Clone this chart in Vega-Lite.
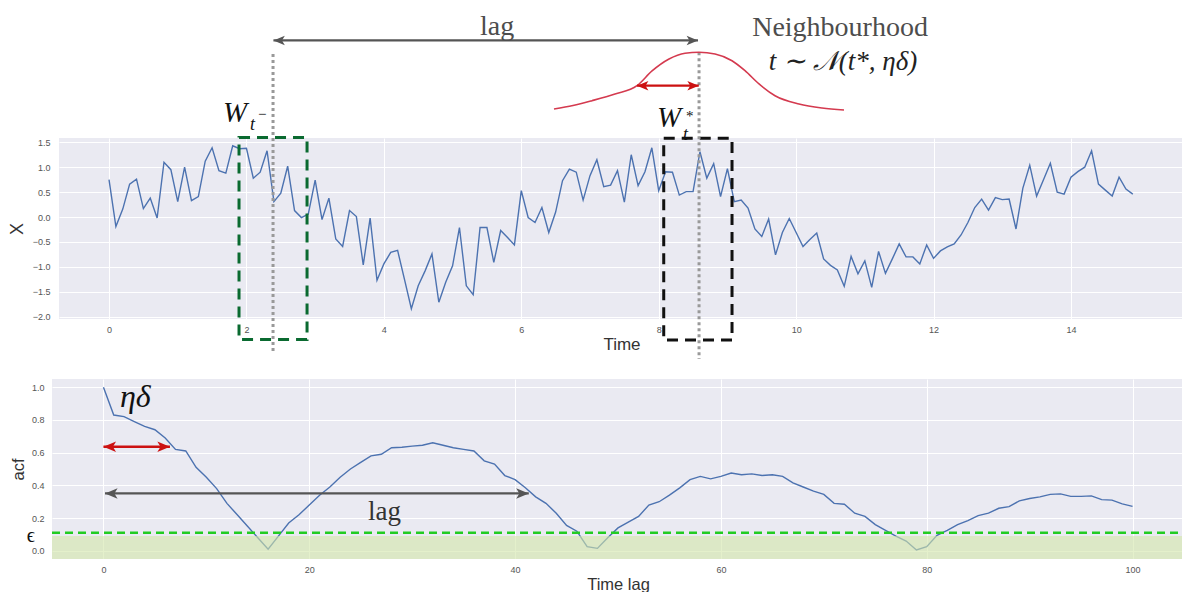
{
  "$schema": "https://vega.github.io/schema/vega-lite/v6.json",
  "padding": {"left": 8, "top": 13, "right": 0, "bottom": 0},
  "autosize": {"type": "pad"},
  "spacing": 18,
  "config": {
    "view": {"stroke": null},
    "font": "Liberation Sans",
    "axis": {"domain": false, "ticks": false, "tickSize": 0, "grid": true, "gridColor": "#ffffff", "gridWidth": 1, "labelColor": "#555555", "labelFontSize": 9, "labelFont": "Liberation Sans", "titleFont": "Liberation Sans", "titleFontWeight": "normal", "titleColor": "#333333"}
  },
  "resolve": {"scale": {"color": "independent", "shape": "independent"}},
  "datasets": {
    "xseries": [
      {"time":0.0,"x":0.75},{"time":0.1,"x":-0.19},{"time":0.2,"x":0.16},{"time":0.3,"x":0.66},{"time":0.4,"x":0.76},{"time":0.5,"x":0.17},{"time":0.6,"x":0.38},{"time":0.7,"x":-0.02},{"time":0.8,"x":1.10},{"time":0.9,"x":0.95},
      {"time":1.0,"x":0.31},{"time":1.1,"x":1.00},{"time":1.2,"x":0.33},{"time":1.3,"x":0.41},{"time":1.4,"x":1.12},{"time":1.5,"x":1.39},{"time":1.6,"x":0.93},{"time":1.7,"x":0.88},{"time":1.8,"x":1.43},{"time":1.9,"x":1.37},
      {"time":2.0,"x":1.38},{"time":2.1,"x":0.78},{"time":2.2,"x":0.90},{"time":2.3,"x":1.33},{"time":2.4,"x":0.31},{"time":2.5,"x":0.48},{"time":2.6,"x":1.02},{"time":2.7,"x":0.13},{"time":2.8,"x":-0.01},{"time":2.9,"x":0.06},
      {"time":3.0,"x":0.74},{"time":3.1,"x":-0.05},{"time":3.2,"x":0.38},{"time":3.3,"x":-0.44},{"time":3.4,"x":-0.59},{"time":3.5,"x":0.13},{"time":3.6,"x":0.01},{"time":3.7,"x":-0.96},{"time":3.8,"x":-0.02},{"time":3.9,"x":-1.27},
      {"time":4.0,"x":-0.94},{"time":4.1,"x":-0.71},{"time":4.2,"x":-0.67},{"time":4.3,"x":-1.25},{"time":4.4,"x":-1.84},{"time":4.5,"x":-1.38},{"time":4.6,"x":-1.08},{"time":4.7,"x":-0.74},{"time":4.8,"x":-1.71},{"time":4.9,"x":-1.31},
      {"time":5.0,"x":-0.98},{"time":5.1,"x":-0.21},{"time":5.2,"x":-1.38},{"time":5.3,"x":-1.56},{"time":5.4,"x":-0.21},{"time":5.5,"x":-0.21},{"time":5.6,"x":-0.91},{"time":5.7,"x":-0.27},{"time":5.8,"x":-0.41},{"time":5.9,"x":-0.56},
      {"time":6.0,"x":0.53},{"time":6.1,"x":-0.01},{"time":6.2,"x":-0.11},{"time":6.3,"x":0.19},{"time":6.4,"x":-0.31},{"time":6.5,"x":0.10},{"time":6.6,"x":0.73},{"time":6.7,"x":0.96},{"time":6.8,"x":0.90},{"time":6.9,"x":0.34},
      {"time":7.0,"x":0.83},{"time":7.1,"x":1.15},{"time":7.2,"x":0.61},{"time":7.3,"x":0.64},{"time":7.4,"x":0.93},{"time":7.5,"x":0.30},{"time":7.6,"x":1.25},{"time":7.7,"x":0.63},{"time":7.8,"x":0.91},{"time":7.9,"x":1.39},
      {"time":8.0,"x":0.53},{"time":8.1,"x":0.91},{"time":8.2,"x":0.90},{"time":8.3,"x":0.44},{"time":8.4,"x":0.51},{"time":8.5,"x":0.51},{"time":8.6,"x":1.31},{"time":8.7,"x":0.78},{"time":8.8,"x":1.07},{"time":8.9,"x":0.41},
      {"time":9.0,"x":0.97},{"time":9.1,"x":0.31},{"time":9.2,"x":0.34},{"time":9.3,"x":0.18},{"time":9.4,"x":-0.24},{"time":9.5,"x":-0.39},{"time":9.6,"x":-0.04},{"time":9.7,"x":-0.76},{"time":9.8,"x":-0.31},{"time":9.9,"x":-0.03},
      {"time":10.0,"x":-0.31},{"time":10.1,"x":-0.59},{"time":10.2,"x":-0.45},{"time":10.3,"x":-0.32},{"time":10.4,"x":-0.84},{"time":10.5,"x":-0.97},{"time":10.6,"x":-1.06},{"time":10.7,"x":-1.39},{"time":10.8,"x":-0.79},{"time":10.9,"x":-1.14},
      {"time":11.0,"x":-0.88},{"time":11.1,"x":-1.41},{"time":11.2,"x":-0.69},{"time":11.3,"x":-1.13},{"time":11.4,"x":-0.84},{"time":11.5,"x":-0.54},{"time":11.6,"x":-0.80},{"time":11.7,"x":-0.80},{"time":11.8,"x":-0.94},{"time":11.9,"x":-0.56},
      {"time":12.0,"x":-0.83},{"time":12.1,"x":-0.68},{"time":12.2,"x":-0.60},{"time":12.3,"x":-0.54},{"time":12.4,"x":-0.36},{"time":12.5,"x":-0.11},{"time":12.6,"x":0.19},{"time":12.7,"x":0.36},{"time":12.8,"x":0.14},{"time":12.9,"x":0.39},
      {"time":13.0,"x":0.35},{"time":13.1,"x":0.36},{"time":13.2,"x":-0.24},{"time":13.3,"x":0.58},{"time":13.4,"x":1.04},{"time":13.5,"x":0.42},{"time":13.6,"x":0.75},{"time":13.7,"x":1.08},{"time":13.8,"x":0.50},{"time":13.9,"x":0.46},
      {"time":14.0,"x":0.80},{"time":14.1,"x":0.91},{"time":14.2,"x":1.00},{"time":14.3,"x":1.33},{"time":14.4,"x":0.66},{"time":14.5,"x":0.54},{"time":14.6,"x":0.42},{"time":14.7,"x":0.80},{"time":14.8,"x":0.56},{"time":14.9,"x":0.46}
    ],
    "gauss": [
      {"time":6.476,"x":2.168},{"time":6.753,"x":2.238},{"time":7.029,"x":2.335},{"time":7.364,"x":2.469},{"time":7.684,"x":2.636},{"time":7.903,"x":2.931},{"time":8.150,"x":3.171},{"time":8.383,"x":3.286},{"time":8.587,"x":3.306},{"time":8.820,"x":3.272},{"time":9.067,"x":3.137},{"time":9.256,"x":2.937},{"time":9.460,"x":2.670},{"time":9.693,"x":2.435},{"time":10.042,"x":2.268},{"time":10.377,"x":2.188},{"time":10.697,"x":2.148}
    ],
    "toparrows": [
      {"name":"lag","time":2.393,"time2":8.572,"x":3.543},
      {"name":"nbh","time":7.684,"time2":8.583,"x":2.636}
    ],
    "topheads": [
      {"name":"lag","side":"left","time":2.393,"x":3.543},
      {"name":"lag","side":"right","time":8.572,"x":3.543},
      {"name":"nbh","side":"left","time":7.684,"x":2.636},
      {"name":"nbh","side":"right","time":8.583,"x":2.636}
    ],
    "acf": [
      {"lag":0,"acf":1.0},{"lag":1,"acf":0.83},{"lag":2,"acf":0.82},{"lag":3,"acf":0.79},{"lag":4,"acf":0.76},{"lag":5,"acf":0.74},{"lag":6,"acf":0.69},{"lag":7,"acf":0.62},{"lag":8,"acf":0.61},{"lag":9,"acf":0.51},
      {"lag":10,"acf":0.45},{"lag":11,"acf":0.38},{"lag":12,"acf":0.29},{"lag":13,"acf":0.22},{"lag":14,"acf":0.15},{"lag":15,"acf":0.08},{"lag":16,"acf":0.01},{"lag":17,"acf":0.09},{"lag":18,"acf":0.17},{"lag":19,"acf":0.22},
      {"lag":20,"acf":0.28},{"lag":21,"acf":0.34},{"lag":22,"acf":0.39},{"lag":23,"acf":0.45},{"lag":24,"acf":0.50},{"lag":25,"acf":0.54},{"lag":26,"acf":0.58},{"lag":27,"acf":0.59},{"lag":28,"acf":0.63},{"lag":29,"acf":0.633},
      {"lag":30,"acf":0.64},{"lag":31,"acf":0.645},{"lag":32,"acf":0.66},{"lag":33,"acf":0.645},{"lag":34,"acf":0.63},{"lag":35,"acf":0.62},{"lag":36,"acf":0.61},{"lag":37,"acf":0.55},{"lag":38,"acf":0.53},{"lag":39,"acf":0.46},
      {"lag":40,"acf":0.435},{"lag":41,"acf":0.385},{"lag":42,"acf":0.33},{"lag":43,"acf":0.29},{"lag":44,"acf":0.23},{"lag":45,"acf":0.155},{"lag":46,"acf":0.12},{"lag":47,"acf":0.025},{"lag":48,"acf":0.015},{"lag":49,"acf":0.08},
      {"lag":50,"acf":0.14},{"lag":51,"acf":0.175},{"lag":52,"acf":0.21},{"lag":53,"acf":0.28},{"lag":54,"acf":0.30},{"lag":55,"acf":0.34},{"lag":56,"acf":0.385},{"lag":57,"acf":0.435},{"lag":58,"acf":0.455},{"lag":59,"acf":0.44},
      {"lag":60,"acf":0.455},{"lag":61,"acf":0.475},{"lag":62,"acf":0.465},{"lag":63,"acf":0.47},{"lag":64,"acf":0.46},{"lag":65,"acf":0.465},{"lag":66,"acf":0.455},{"lag":67,"acf":0.415},{"lag":68,"acf":0.39},{"lag":69,"acf":0.365},
      {"lag":70,"acf":0.345},{"lag":71,"acf":0.29},{"lag":72,"acf":0.285},{"lag":73,"acf":0.23},{"lag":74,"acf":0.21},{"lag":75,"acf":0.16},{"lag":76,"acf":0.125},{"lag":77,"acf":0.09},{"lag":78,"acf":0.06},{"lag":79,"acf":0.005},
      {"lag":80,"acf":0.025},{"lag":81,"acf":0.095},{"lag":82,"acf":0.125},{"lag":83,"acf":0.16},{"lag":84,"acf":0.185},{"lag":85,"acf":0.215},{"lag":86,"acf":0.23},{"lag":87,"acf":0.26},{"lag":88,"acf":0.27},{"lag":89,"acf":0.305},
      {"lag":90,"acf":0.32},{"lag":91,"acf":0.33},{"lag":92,"acf":0.345},{"lag":93,"acf":0.348},{"lag":94,"acf":0.333},{"lag":95,"acf":0.333},{"lag":96,"acf":0.336},{"lag":97,"acf":0.313},{"lag":98,"acf":0.31},{"lag":99,"acf":0.287},
      {"lag":100,"acf":0.272}
    ],
    "acfarrows": [
      {"name":"eta","lag":0,"lag2":6.46,"acf":0.636},
      {"name":"lag","lag":0.15,"lag2":41.33,"acf":0.351}
    ],
    "acfheads": [
      {"name":"eta","side":"left","lag":0,"acf":0.636},
      {"name":"eta","side":"right","lag":6.46,"acf":0.636},
      {"name":"lag","side":"left","lag":0.15,"acf":0.351},
      {"name":"lag","side":"right","lag":41.33,"acf":0.351}
    ]
  },
  "vconcat": [
    {
      "bounds": "flush",
      "spacing": 6,
      "hconcat": [
        {"width": 1, "height": 181, "data": {"values": [{"a": 0}]}, "mark": {"type": "point", "opacity": 0}},
        {
          "width": 1125,
          "height": 181,
          "view": {"fill": "#eaeaf2", "stroke": null},
          "encoding": {
            "x": {"field": "time", "type": "quantitative", "scale": {"domain": [-0.728, 15.645], "nice": false, "zero": false},
                  "axis": {"values": [0, 2, 4, 6, 8, 10, 12, 14], "format": "d", "title": "Time", "titleFontSize": 17, "labelPadding": 6, "titlePadding": 2}},
            "y": {"field": "x", "type": "quantitative", "scale": {"domain": [-2.046, 1.586], "nice": false, "zero": false},
                  "axis": {"values": [-2, -1.5, -1, -0.5, 0, 0.5, 1, 1.5], "format": ".1f", "title": "X", "titleFontSize": 18, "titleX": -33, "labelPadding": 9}}
          },
          "layer": [
            {"data": {"name": "xseries"}, "mark": {"type": "line", "color": "#4c72b0", "strokeWidth": 1.4}},
            {"data": {"values": [{"time": 1.892, "time2": 2.882, "x": 1.596, "x2": -2.457}]},
             "mark": {"type": "rect", "fillOpacity": 0, "stroke": "#0a6a30", "strokeWidth": 3, "strokeDash": [11, 7]},
             "encoding": {"x2": {"field": "time2"}, "y2": {"field": "x2"}}},
            {"data": {"values": [{"time": 8.073, "time2": 9.067, "x": 1.58, "x2": -2.467}]},
             "mark": {"type": "rect", "fillOpacity": 0, "stroke": "#111111", "strokeWidth": 3, "strokeDash": [11, 7]},
             "encoding": {"x2": {"field": "time2"}, "y2": {"field": "x2"}}},
            {"data": {"values": [{"time": 2.387, "x": 3.271, "x2": -2.748}, {"time": 8.587, "x": 3.306, "x2": -2.849}]},
             "mark": {"type": "rule", "color": "#999999", "strokeWidth": 3, "strokeDash": [3, 3]},
             "encoding": {"y2": {"field": "x2"}}},
            {"data": {"name": "gauss"}, "mark": {"type": "line", "color": "#d43a4f", "strokeWidth": 1.6, "interpolate": "monotone"}},
            {"data": {"name": "toparrows"},
             "mark": {"type": "rule", "strokeWidth": 2.2},
             "encoding": {"x2": {"field": "time2"},
                          "color": {"field": "name", "type": "nominal", "scale": {"domain": ["lag", "nbh"], "range": ["#555555", "#cc1111"]}, "legend": null}}},
            {"data": {"name": "topheads"},
             "mark": {"type": "point", "filled": true, "opacity": 1, "size": 90},
             "encoding": {"color": {"field": "name", "type": "nominal", "scale": {"domain": ["lag", "nbh"], "range": ["#555555", "#cc1111"]}, "legend": null},
                          "shape": {"field": "side", "type": "nominal", "scale": {"domain": ["left", "right"], "range": ["M0,0L2.4,-1L1.8,0L2.4,1Z", "M0,0L-2.4,-1L-1.8,0L-2.4,1Z"]}, "legend": null}}},
            {"data": {"values": [{"time": 5.647, "x": 3.647, "label": "lag"}, {"time": 10.639, "x": 3.639, "label": "Neighbourhood"}]},
             "mark": {"type": "text", "font": "Liberation Serif", "fontSize": 28, "color": "#4d4d4d", "align": "center", "baseline": "alphabetic"},
             "encoding": {"text": {"field": "label"}}},
            {"data": {"values": [{"time": 10.682, "x": 2.951, "label": "t ∼ 𝒩(t*, ηδ)"}]},
             "mark": {"type": "text", "font": "Liberation Serif", "fontStyle": "italic", "fontSize": 27, "color": "#222222", "align": "center", "baseline": "alphabetic"},
             "encoding": {"text": {"field": "label"}}},
            {"data": {"values": [{"time": 1.659, "x": 1.913, "label": "W"}, {"time": 7.976, "x": 1.807, "label": "W"}]},
             "mark": {"type": "text", "font": "Liberation Serif", "fontStyle": "italic", "fontSize": 29, "color": "#111111", "align": "left", "baseline": "alphabetic"},
             "encoding": {"text": {"field": "label"}}},
            {"data": {"values": [{"time": 2.052, "x": 1.747, "label": "t"}, {"time": 8.354, "x": 1.546, "label": "t"}]},
             "mark": {"type": "text", "font": "Liberation Serif", "fontStyle": "italic", "fontSize": 18, "color": "#111111", "align": "left", "baseline": "alphabetic"},
             "encoding": {"text": {"field": "label"}}},
            {"data": {"values": [{"time": 2.169, "x": 2.068, "label": "−"}, {"time": 8.398, "x": 2.027, "label": "*"}]},
             "mark": {"type": "text", "font": "Liberation Serif", "fontSize": 15, "color": "#111111", "align": "left", "baseline": "middle"},
             "encoding": {"text": {"field": "label"}}}
          ]
        }
      ]
    },
    {
      "width": 1132,
      "height": 180,
      "view": {"fill": "#eaeaf2", "stroke": null},
      "encoding": {
        "x": {"field": "lag", "type": "quantitative", "scale": {"domain": [-5, 105], "nice": false, "zero": false},
              "axis": {"values": [0, 20, 40, 60, 80, 100], "format": "d", "title": "Time lag", "titleFontSize": 16.5, "labelPadding": 6, "titlePadding": 2}},
        "y": {"field": "acf", "type": "quantitative", "scale": {"domain": [-0.05, 1.05], "nice": false, "zero": false},
              "axis": {"values": [0, 0.2, 0.4, 0.6, 0.8, 1.0], "format": ".1f", "title": "acf", "titleFontSize": 16.5, "titleX": -26, "labelPadding": 8}}
      },
      "layer": [
        {"data": {"name": "acf"}, "mark": {"type": "line", "color": "#4c72b0", "strokeWidth": 1.4}},
        {"data": {"values": [{"lag": -5, "lag2": 105, "acf": -0.05, "acf2": 0.09}]},
         "mark": {"type": "rect", "color": "#d2e6a8", "opacity": 0.6},
         "encoding": {"x2": {"field": "lag2"}, "y2": {"field": "acf2"}}},
        {"data": {"values": [{"lag": -5, "lag2": 105, "acf": 0.111}]},
         "mark": {"type": "rule", "color": "#22cc22", "strokeWidth": 2.5, "strokeDash": [8, 5]},
         "encoding": {"x2": {"field": "lag2"}}},
        {"data": {"name": "acfarrows"},
         "mark": {"type": "rule", "strokeWidth": 2.4},
         "encoding": {"x2": {"field": "lag2"},
                      "color": {"field": "name", "type": "nominal", "scale": {"domain": ["eta", "lag"], "range": ["#cc1111", "#555555"]}, "legend": null}}},
        {"data": {"name": "acfheads"},
         "mark": {"type": "point", "filled": true, "opacity": 1, "size": 110},
         "encoding": {"color": {"field": "name", "type": "nominal", "scale": {"domain": ["eta", "lag"], "range": ["#cc1111", "#555555"]}, "legend": null},
                      "shape": {"field": "side", "type": "nominal", "scale": {"domain": ["left", "right"], "range": ["M0,0L2.4,-1L1.8,0L2.4,1Z", "M0,0L-2.4,-1L-1.8,0L-2.4,1Z"]}, "legend": null}}},
        {"data": {"values": [{"lag": 1.6, "acf": 0.879, "label": "ηδ"}]},
         "mark": {"type": "text", "font": "Liberation Serif", "fontStyle": "italic", "fontSize": 32, "color": "#111111", "align": "left", "baseline": "alphabetic"},
         "encoding": {"text": {"field": "label"}}},
        {"data": {"values": [{"lag": 27.3, "acf": 0.188, "label": "lag"}]},
         "mark": {"type": "text", "font": "Liberation Serif", "fontSize": 27, "color": "#333333", "align": "center", "baseline": "alphabetic"},
         "encoding": {"text": {"field": "label"}}},
        {"data": {"values": [{"lag": -7.05, "acf": 0.088, "label": "ϵ"}]},
         "mark": {"type": "text", "font": "Liberation Serif", "fontSize": 20, "color": "#111111", "align": "center", "baseline": "middle"},
         "encoding": {"text": {"field": "label"}}}
      ]
    }
  ]
}
